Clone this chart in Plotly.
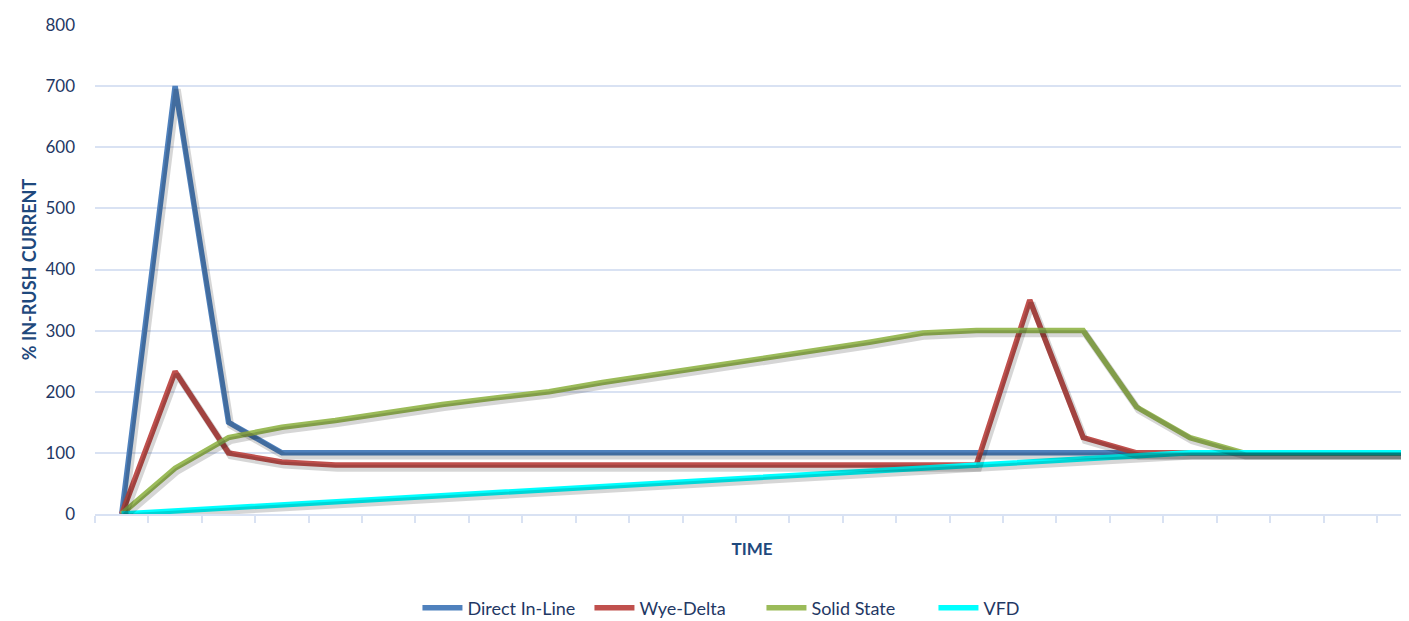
import plotly.graph_objects as go

time_steps = list(range(1, 26))

direct_in_line = [0, 700, 150, 100, 100, 100, 100, 100, 100, 100, 100, 100, 100,
                  100, 100, 100, 100, 100, 100, 100, 100, 100, 100, 100, 100]
wye_delta = [0, 233, 100, 85, 80, 80, 80, 80, 80, 80, 80, 80, 80,
             80, 80, 80, 80, 350, 125, 100, 100, 100, 100, 100, 100]
solid_state = [0, 75, 125, 142, 153, 167, 179, 190, 200, 215, 228, 242, 255,
               268, 281, 296, 300, 300, 300, 175, 125, 100, 100, 100, 100]
vfd = [0, 5, 10, 15, 20, 25, 30, 35, 40, 45, 50, 55, 60,
       65, 70, 75, 80, 85, 90, 95, 100, 100, 100, 100, 100]

series = [
    ("Direct In-Line", direct_in_line, "#4F81BD"),
    ("Wye-Delta", wye_delta, "#C0504D"),
    ("Solid State", solid_state, "#9BBB59"),
    ("VFD", vfd, "#00FFFF"),
]

text_color = "#1F3864"
title_color = "#1F497D"
grid_color = "#D9E2F3"
font_family = "Lato, 'Open Sans', sans-serif"

x_cats = [str(t) for t in time_steps]
x_range = [-0.5, 24.1]
y_range = [0, 800]

fig = go.Figure()

# soft drop shadows drawn on slightly offset overlay axes
for name, vals, color in series:
    fig.add_trace(go.Scatter(
        x=x_cats, y=vals, mode="lines", showlegend=False, hoverinfo="skip",
        line=dict(color="rgba(0,0,0,0.16)", width=7),
        xaxis="x2", yaxis="y2",
    ))

for name, vals, color in series:
    fig.add_trace(go.Scatter(
        x=x_cats, y=vals, name=name, mode="lines",
        line=dict(color=color, width=5.5),
    ))

fig.update_layout(
    width=1401, height=613,
    margin=dict(l=87, r=0, t=17, b=107),
    paper_bgcolor="white", plot_bgcolor="white",
    font=dict(family=font_family, color=text_color, size=17),
    showlegend=True,
    legend=dict(orientation="h", xref="paper", x=0.2454, xanchor="left",
                yref="container", y=0.0212, yanchor="middle",
                font=dict(size=18, color=text_color), itemwidth=40,
                entrywidth=117, entrywidthmode="pixels",
                tracegroupgap=0),
    xaxis=dict(
        type="category", range=x_range, automargin=False,
        tickson="boundaries", ticks="outside", ticklen=7, tickcolor=grid_color, tickwidth=1.5,
        showticklabels=False, showgrid=False,
        showline=True, linecolor=grid_color, linewidth=1.5,
        title=dict(text="<b>TIME</b>", font=dict(size=17, color=title_color), standoff=28),
        zeroline=False,
    ),
    yaxis=dict(
        range=y_range, dtick=100, tick0=0, automargin=False,
        showgrid=True, gridcolor=grid_color, gridwidth=1.5,
        zeroline=False, showline=False, ticks="",
        ticklabelstandoff=19,
        tickfont=dict(size=17, color=text_color),
        title=dict(text="<b>% IN-RUSH CURRENT</b>", font=dict(size=18, color=title_color), standoff=4),
    ),
    xaxis2=dict(
        type="category", overlaying="x", range=[x_range[0] - 0.04, x_range[1] - 0.04],
        visible=False, showgrid=False, zeroline=False,
    ),
    yaxis2=dict(
        overlaying="y", range=[y_range[0] + 5, y_range[1] + 5],
        visible=False, showgrid=False, zeroline=False,
    ),
)

fig.write_html("out.html")
